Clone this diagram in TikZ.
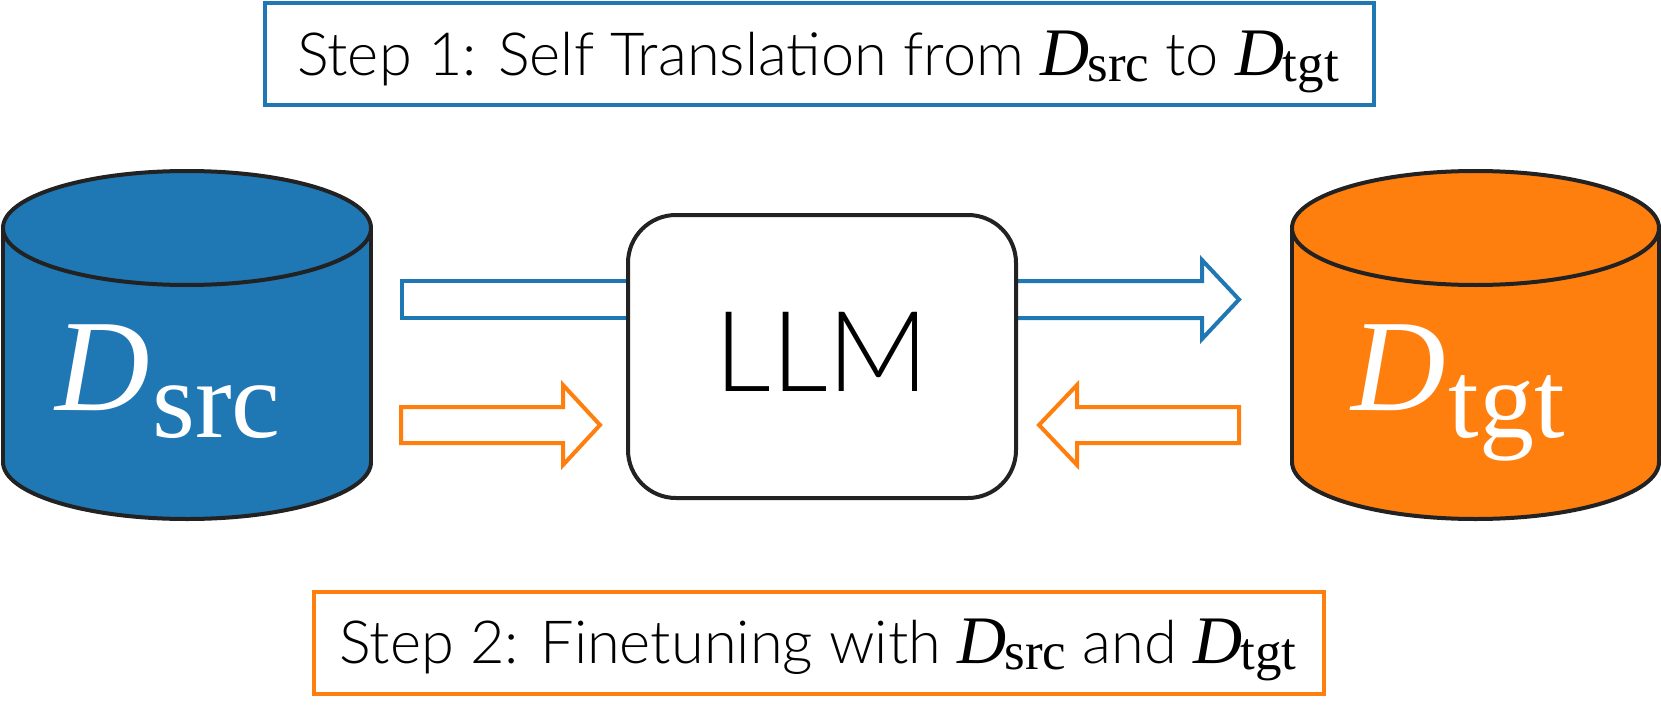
\documentclass[tikz,border=0pt]{standalone}
\usepackage{fontspec}
\usepackage{graphicx}
\setmainfont{Lato Light}
\newfontface\serifit{Liberation Serif Italic}
\newfontface\serifup{Liberation Serif}
\definecolor{tabblue}{HTML}{1F77B4}
\definecolor{taborange}{HTML}{FF7F0E}
\definecolor{edgegray}{HTML}{222222}
\newcommand\Dsub[1]{{\serifit D}\kern0.02em\raisebox{-0.21em}{\scalebox{0.84}{\serifup #1}}}
\newcommand\Dstep[1]{{\fontsize{68}{68}\selectfont\serifit D}\kern-1.5pt\raisebox{-6pt}{\fontsize{53}{53}\selectfont\serifup #1}}
\tikzset{
  outline/.style={draw=edgegray, line width=4pt},
  stepbox/.style={line width=4pt, minimum height=102pt, inner sep=0pt},
  steptext/.style={anchor=base, inner sep=0pt, font=\fontsize{59.5}{62}\selectfont},
  blockarrow/.style={line width=4pt, line join=miter, fill=white},
  cyltext/.style={text=white, anchor=base, font=\fontsize{131}{131}\selectfont, inner sep=0pt},
}
\begin{document}
\begin{tikzpicture}[x=1pt,y=-1pt]
\useasboundingbox (0,0) rectangle (1661,714);
% boxes
\node[stepbox, draw=tabblue, minimum width=1109pt] (step1) at (819.5,54) {};
\node[steptext] (step1text) at (818,76) {Step 1: Self Translation from \Dstep{src} to \Dstep{tgt}};
\node[stepbox, draw=taborange, minimum width=1010pt] (step2) at (819,642.5) {};
\node[steptext] (step2text) at (818,663) {Step 2: Finetuning with \Dstep{src} and \Dstep{tgt}};
% left cylinder
\fill[fill=tabblue, outline] (187,462) ellipse [x radius=184, y radius=57];
\fill[tabblue] (3,228) rectangle (371,462);
\draw[outline] (3,228) -- (3,462) (371,228) -- (371,462);
\filldraw[fill=tabblue, outline] (187,228) ellipse [x radius=184, y radius=57];
\node[cyltext] (dsrc) at (168,410) {\Dsub{src}};
% right cylinder
\fill[fill=taborange, outline] (1475.5,462) ellipse [x radius=183.5, y radius=57];
\fill[taborange] (1292,228) rectangle (1659,462);
\draw[outline] (1292,228) -- (1292,462) (1659,228) -- (1659,462);
\filldraw[fill=taborange, outline] (1475.5,228) ellipse [x radius=183.5, y radius=57];
\node[cyltext] (dtgt) at (1458,410) {\Dsub{tgt}};
% arrows
\draw[blockarrow, draw=tabblue] (640,281) -- (402,281) -- (402,318) -- (640,318);
\draw[blockarrow, draw=tabblue] (1005,281) -- (1202,281) -- (1202,260) -- (1239,299.5) -- (1202,339) -- (1202,318) -- (1005,318);
\draw[blockarrow, draw=taborange] (401,407) -- (563,407) -- (563,385) -- (600,425) -- (563,465) -- (563,443) -- (401,443) -- cycle;
\draw[blockarrow, draw=taborange] (1239,407) -- (1077,407) -- (1077,385) -- (1039,425) -- (1077,465) -- (1077,443) -- (1239,443) -- cycle;
% LLM
\node[outline, fill=white, rounded corners=48pt, minimum width=388pt, minimum height=283pt, inner sep=0pt, font=\fontsize{112}{112}\selectfont] (llm) at (822,356.5) {\raisebox{8.5pt}{LLM}};
\end{tikzpicture}
\end{document}
